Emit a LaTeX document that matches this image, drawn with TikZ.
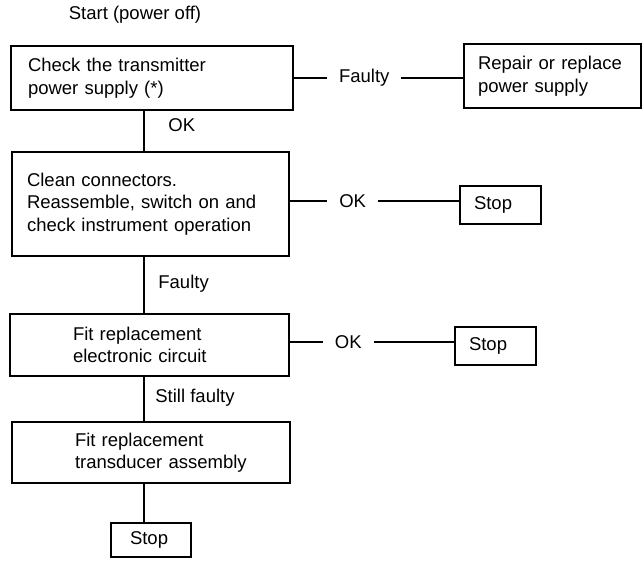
\documentclass[tikz,border=0pt]{standalone}
\usepackage{fontspec}
\setmainfont{Liberation Sans}
\begin{document}
\begin{tikzpicture}[x=1pt,y=-1pt,
  font=\fontsize{18.5}{22.5}\selectfont,
  box/.style={draw, line width=2.8pt, inner ysep=0pt, align=left},
  ln/.style={line width=2.8pt},
  hlbl/.style={fill=white, inner xsep=12pt, inner ysep=2pt},
  vlbl/.style={inner sep=0pt}]
\useasboundingbox (0,0) rectangle (644,560);

\node[inner sep=0pt] (start) at (135,15) {Start (power off)};

\node[box, minimum width=282pt, minimum height=64pt, text width=248pt, inner xsep=17pt]
  (check) at (152,78) {Check the transmitter\\power supply (*)};
\node[box, minimum width=177pt, minimum height=64pt, text width=149pt, inner xsep=14pt]
  (repair) at (552.5,76) {Repair or replace\\power supply};

\node[box, minimum width=277pt, minimum height=104pt, text width=247pt, inner xsep=15pt]
  (clean) at (150.5,204) {Clean connectors.\\Reassemble, switch on and\\check instrument operation};
\node[box, minimum width=81pt, minimum height=38pt, text width=53pt, inner xsep=14pt]
  (stopa) at (500.5,205) {Stop};

\node[box, minimum width=279pt, minimum height=62pt, text width=153pt, inner xsep=63pt]
  (circuit) at (149.5,345) {Fit replacement\\electronic circuit};
\node[box, minimum width=81pt, minimum height=38pt, text width=53pt, inner xsep=14pt]
  (stopb) at (495.5,346) {Stop};

\node[box, minimum width=278pt, minimum height=61pt, text width=152pt, inner xsep=63pt]
  (transducer) at (151,452.5) {\mbox{Fit replacement}\\\mbox{transducer assembly}};
\node[box, minimum width=80pt, minimum height=34pt, text width=42pt, inner xsep=19pt]
  (stopc) at (151,540) {Stop};

\coordinate (spine) at (144,0);

% vertical connectors
\draw[ln] (check.south -| spine) -- (clean.north -| spine)
  node[vlbl, pos=0.36, right=23pt] (lok) {OK};
\draw[ln] (clean.south -| spine) -- (circuit.north -| spine)
  node[vlbl, pos=0.48, right=13pt] (lfaulty) {Faulty};
\draw[ln] (circuit.south -| spine) -- (transducer.north -| spine)
  node[vlbl, pos=0.46, right=10pt] (lstill) {Still faulty};
\draw[ln] (transducer.south -| spine) -- (stopc.north -| spine);

% horizontal connectors
\draw[ln] (check.east) -- (check.east -| repair.west)
  node[hlbl, pos=0.415] (lf1) {Faulty};
\draw[ln] ([yshift=3pt]clean.east) -- ([yshift=3pt]clean.east -| stopa.west)
  node[hlbl, pos=0.37] (lok2) {OK};
\draw[ln] ([yshift=3pt]circuit.east) -- ([yshift=3pt]circuit.east -| stopb.west)
  node[hlbl, pos=0.355] (lok3) {OK};
\end{tikzpicture}
\end{document}
